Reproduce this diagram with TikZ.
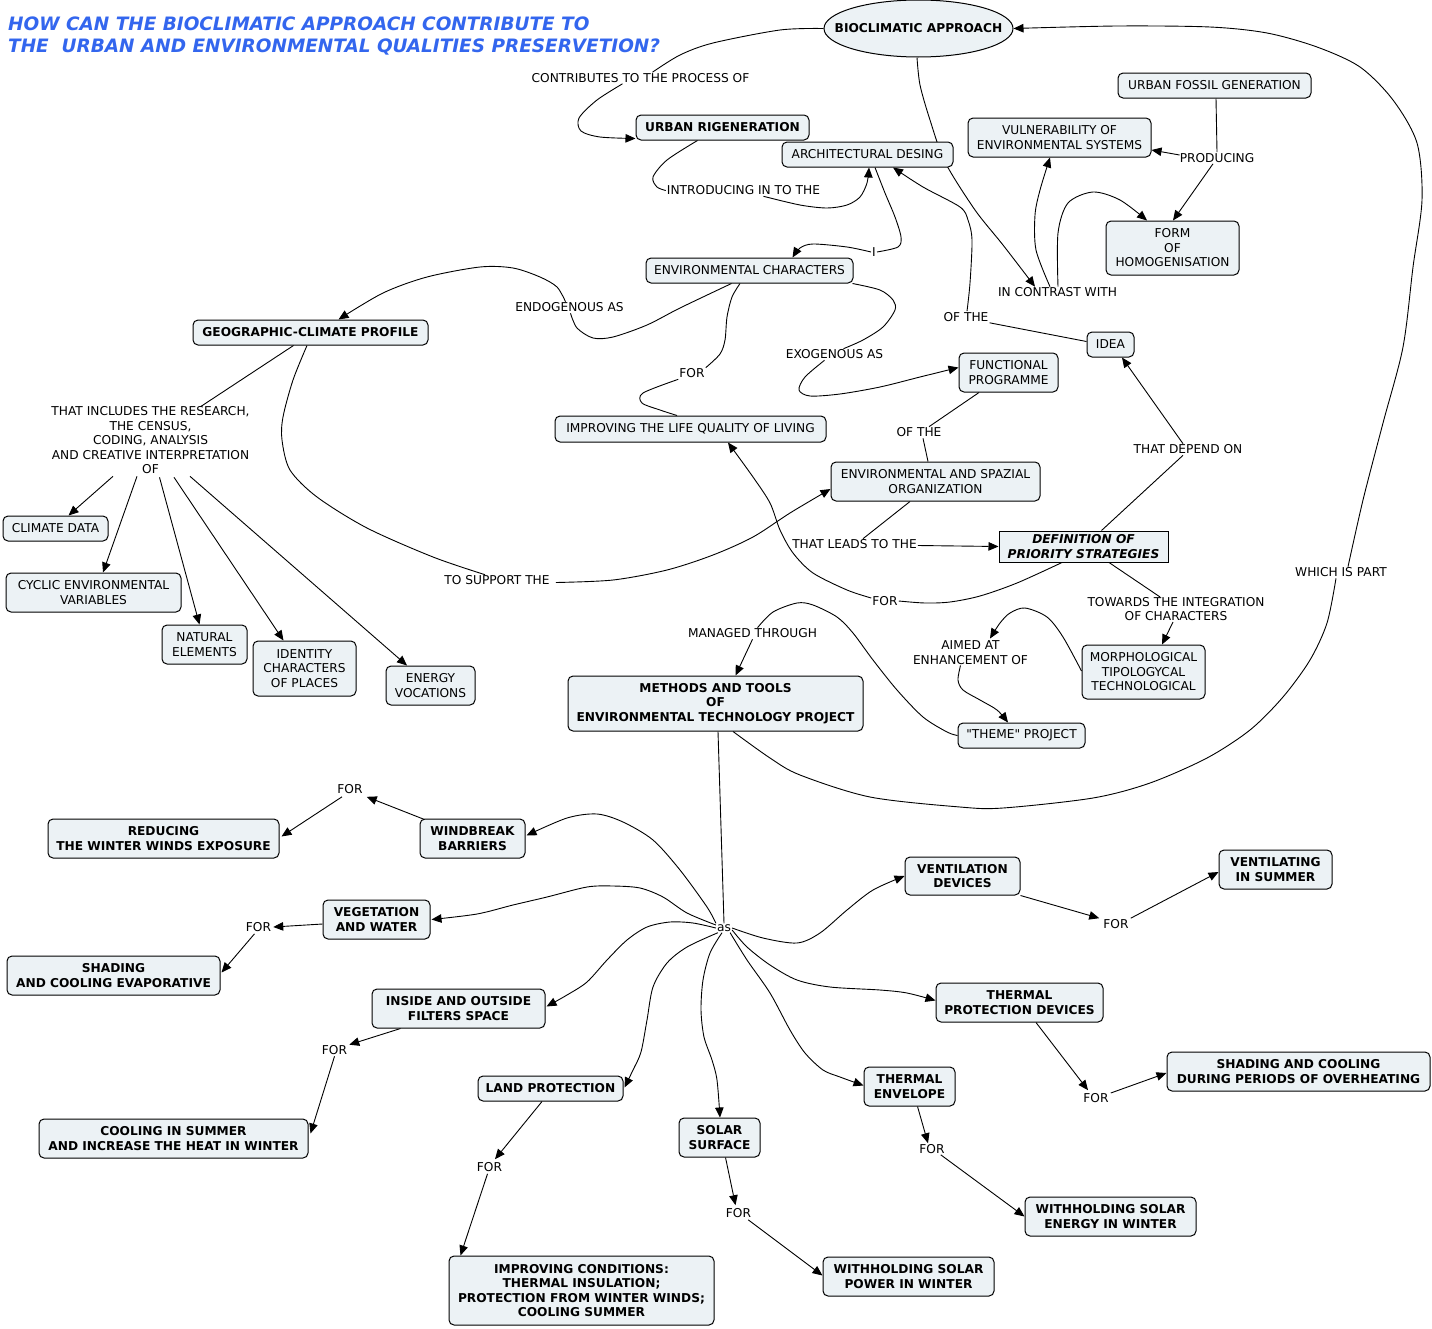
\documentclass[tikz,border=0pt]{standalone}
\usepackage{fontspec}
\setmainfont{DejaVu Sans}
\newfontfamily\rawdj{DejaVu Sans}
\usetikzlibrary{arrows.meta,calc,shapes.geometric}
\definecolor{boxfill}{RGB}{236,242,245}
\definecolor{titleblue}{RGB}{51,102,238}
\newcommand\cmfs{\fontsize{12.2}{14.5}\selectfont}
\pgfdeclarelayer{bg}
\pgfsetlayers{bg,main}
\tikzset{
  sz/.style 2 args={minimum width=#1, minimum height=#2},
  cbox/.style={draw, line width=1pt, rounded corners=5pt, fill=boxfill, align=center, inner sep=0pt, font=\cmfs},
  bbox/.style={cbox, font=\cmfs\bfseries},
  lab/.style={align=center, inner sep=1pt, font=\cmfs},
  conn/.style={line width=0.9pt},
  arr/.style={conn, -{Triangle[length=10pt,width=8.5pt]}},
  ttl/.style={anchor=base west, inner sep=0pt, font=\fontsize{18.45}{22}\selectfont\bfseries\itshape, text=titleblue},
}
\begin{document}
\begin{tikzpicture}[x=1pt,y=-1pt]
\useasboundingbox (0,0) rectangle (1432,1328);
% title
\node[ttl] (title1) at (8,30.5) {HOW CAN THE BIOCLIMATIC APPROACH CONTRIBUTE TO};
\node[ttl] (title2) at (8,52.5) {THE\ \ URBAN AND ENVIRONMENTAL QUALITIES PRESERVETION?};
% concepts
\node[draw, ellipse, line width=1pt, fill=boxfill, inner sep=0pt, sz={189pt}{57pt}, font=\cmfs\bfseries] (bio) at (918.5,28.5) {\makebox[0pt]{BIOCLIMATIC APPROACH}};
\node[bbox, sz={173pt}{25pt}] (ur) at (722.5,127.5) {URBAN RIGENERATION};
\node[cbox, sz={171pt}{25pt}] (arch) at (867.5,154.5) {ARCHITECTURAL DESING};
\node[cbox, sz={193pt}{25pt}] (ufg) at (1214.5,85.5) {URBAN FOSSIL GENERATION};
\node[cbox, sz={183pt}{39pt}] (vuln) at (1059.5,137.5) {VULNERABILITY OF\\ENVIRONMENTAL SYSTEMS};
\node[cbox, sz={133pt}{54pt}] (form) at (1172.5,248) {FORM\\OF\\HOMOGENISATION};
\node[cbox, sz={207pt}{25pt}] (envc) at (749.5,270.5) {ENVIRONMENTAL CHARACTERS};
\node[bbox, sz={235pt}{25pt}] (geog) at (310.5,332.5) {GEOGRAPHIC-CLIMATE PROFILE};
\node[cbox, sz={47pt}{25pt}] (idea) at (1110.5,344.5) {IDEA};
\node[cbox, sz={99pt}{39pt}] (fp) at (1008.5,372.5) {FUNCTIONAL\\PROGRAMME};
\node[cbox, sz={271pt}{26pt}] (ilq) at (690.5,429) {IMPROVING THE LIFE QUALITY OF LIVING};
\node[cbox, sz={209pt}{39pt}] (eso) at (935.5,481.5) {ENVIRONMENTAL AND SPAZIAL\\ORGANIZATION};
\node[draw, line width=1pt, fill=boxfill, align=center, inner sep=0pt, sz={169pt}{31pt}, font=\cmfs\bfseries\itshape] (def) at (1083.5,546.5) {DEFINITION OF\\PRIORITY STRATEGIES};
\node[cbox, sz={105pt}{25pt}] (cd) at (55.5,528.5) {CLIMATE DATA};
\node[cbox, sz={175pt}{39pt}] (cev) at (93.5,592.5) {CYCLIC ENVIRONMENTAL\\VARIABLES};
\node[cbox, sz={85pt}{39pt}] (ne) at (204.5,644.5) {NATURAL\\ELEMENTS};
\node[cbox, sz={103pt}{55pt}] (icp) at (304.5,668.5) {IDENTITY\\CHARACTERS\\OF PLACES};
\node[cbox, sz={89pt}{39pt}] (ev) at (430.5,685.5) {ENERGY\\VOCATIONS};
\node[cbox, sz={123pt}{54pt}] (morph) at (1143.5,672) {MORPHOLOGICAL\\TIPOLOGYCAL\\TECHNOLOGICAL};
\node[cbox, sz={127pt}{25pt}, font=\rawdj\cmfs] (theme) at (1021.5,735.5) {"THEME" PROJECT};
\node[bbox, sz={295pt}{55pt}] (meth) at (715.5,703.5) {METHODS AND TOOLS\\OF\\ENVIRONMENTAL TECHNOLOGY PROJECT};
\node[bbox, sz={231pt}{39pt}] (red) at (163.5,838.5) {REDUCING\\THE WINTER WINDS EXPOSURE};
\node[bbox, sz={105pt}{39pt}] (wb) at (472.5,838.5) {WINDBREAK\\BARRIERS};
\node[bbox, sz={115pt}{38pt}] (vd) at (962.5,876) {VENTILATION\\DEVICES};
\node[bbox, sz={113pt}{39pt}] (vs) at (1275.5,869.5) {VENTILATING\\IN SUMMER};
\node[bbox, sz={107pt}{39pt}] (vw) at (376.5,919.5) {VEGETATION\\AND WATER};
\node[bbox, sz={213pt}{39pt}] (sce) at (113.5,975.5) {SHADING\\AND COOLING EVAPORATIVE};
\node[bbox, sz={173pt}{39pt}] (ifs) at (458.5,1008.5) {INSIDE AND OUTSIDE\\FILTERS SPACE};
\node[bbox, sz={167pt}{39pt}] (tpd) at (1019.5,1002.5) {THERMAL\\PROTECTION DEVICES};
\node[bbox, sz={263pt}{39pt}] (scp) at (1298.5,1071.5) {SHADING AND COOLING\\DURING PERIODS OF OVERHEATING};
\node[bbox, sz={91pt}{39pt}] (te) at (909.5,1086.5) {THERMAL\\ENVELOPE};
\node[bbox, sz={145pt}{25pt}] (lp) at (550.5,1088.5) {LAND PROTECTION};
\node[bbox, sz={81pt}{39pt}] (ss) at (719.5,1137.5) {SOLAR\\SURFACE};
\node[bbox, sz={269pt}{39pt}] (cis) at (173.5,1138.5) {COOLING IN SUMMER\\AND INCREASE THE HEAT IN WINTER};
\node[bbox, sz={171pt}{39pt}] (wse) at (1110.5,1216.5) {WITHHOLDING SOLAR\\ENERGY IN WINTER};
\node[bbox, sz={265pt}{69pt}] (ic) at (581.5,1290.5) {IMPROVING CONDITIONS:\\THERMAL INSULATION;\\PROTECTION FROM WINTER WINDS;\\COOLING SUMMER};
\node[bbox, sz={171pt}{39pt}] (wsp) at (908.5,1276.5) {WITHHOLDING SOLAR\\POWER IN WINTER};
% linking phrases
\node[lab] (contrib) at (640.5,78) {CONTRIBUTES TO THE PROCESS OF};
\node[lab] (intro) at (743.5,190.5) {INTRODUCING IN TO THE};
\node[lab] (iLab) at (874,252) {I};
\node[lab] (producing) at (1217,158) {PRODUCING};
\node[lab] (contrast) at (1057.5,292.5) {IN CONTRAST WITH};
\node[lab] (ofthe1) at (966,317) {OF THE};
\node[lab] (endo) at (569.5,307.5) {ENDOGENOUS AS};
\node[lab] (exo) at (834.5,354.5) {EXOGENOUS AS};
\node[lab] (for1) at (692,373.5) {FOR};
\node[lab] (includes) at (150.5,440.5) {THAT INCLUDES THE RESEARCH,\\THE CENSUS,\\CODING, ANALYSIS\\AND CREATIVE INTERPRETATION\\OF};
\node[lab] (ofthe2) at (919,432.5) {OF THE};
\node[lab] (depend) at (1188,449.5) {THAT DEPEND ON};
\node[lab] (leads) at (854.5,544.5) {THAT LEADS TO THE};
\node[lab] (support) at (497,580.5) {TO SUPPORT THE};
\node[lab] (for2) at (885,601) {FOR};
\node[lab] (towards) at (1176,609) {TOWARDS THE INTEGRATION\\OF CHARACTERS};
\node[lab] (whichpart) at (1341,572.5) {WHICH IS PART};
\node[lab] (managed) at (752.5,633.5) {MANAGED THROUGH};
\node[lab] (aimed) at (970.5,652.5) {AIMED AT\\ENHANCEMENT OF};
\node[lab] (as) at (724,928) {as};
\node[lab] (forW) at (350,789) {FOR};
\node[lab] (forV) at (258.5,927) {FOR};
\node[lab] (forVD) at (1116,924) {FOR};
\node[lab] (forF) at (334.5,1050.5) {FOR};
\node[lab] (forTP) at (1096,1098) {FOR};
\node[lab] (forTE) at (932,1149) {FOR};
\node[lab] (forLP) at (489.5,1167) {FOR};
\node[lab] (forSS) at (738.5,1213) {FOR};
% connectors
\begin{pgfonlayer}{bg}
\fill[white] (0,0) rectangle (1432,1328);
\draw[conn] plot[smooth] coordinates {(bio.west) (780,30) (713,43) (680,55) ($(contrib.north)+(12,0)$)};
\draw[arr] plot[smooth] coordinates {($(contrib.south)+(-18,0)$) (597,100) (579,118) (581,131) (600,137) ($(ur.south west)+(0,-2)$)};
\draw[conn] plot[smooth] coordinates {($(ur.south)+(-25,0)$) (667,160) (653,177) (657,187) (intro.west)};
\draw[arr] plot[smooth] coordinates {($(intro.south)+(20,0)$) (800,205) (827,208) (847,205) (860,197) (867,183) ($(arch.south)+(1.5,0)$)};
\draw[conn] plot[smooth] coordinates {($(arch.south)+(7.5,0)$) (885,193) (895,217) (901,237) (898,247) (iLab.east)};
\draw[arr] plot[smooth] coordinates {(iLab.west) (847,247) (813,244) (800,248) ($(envc.north)+(43,0)$)};
\draw[arr] plot[smooth] coordinates {($(bio.south)+(-1.5,0)$) (920,85) (930,120) (945,162) (975,210) (1003,245) ($(contrast.north)+(-22.5,0)$)};
\draw[arr] plot[smooth] coordinates {($(contrast.north)+(-7.5,0)$) (1036,250) (1035,215) (1040,190) ($(vuln.south)+(-9.5,0)$)};
\draw[arr] plot[smooth] coordinates {($(contrast.north)+(0.5,0)$) (1058,233) (1068,203) (1093,192) (1120,200) ($(form.north)+(-25.5,0)$)};
\draw[conn] ($(ufg.south)+(1.5,0)$) -- (producing.north);
\draw[arr] ($(producing.west)+(1,-3)$) -- ($(vuln.east)+(0,12.5)$);
\draw[arr] ($(producing.south)+(-4,0)$) -- ($(form.north)+(0.5,0)$);
\draw[conn] ($(idea.west)+(0,-3)$) -- (ofthe1.south east);
\draw[arr] plot[smooth] coordinates {($(ofthe1.north)+(1,0)$) (970,283) (972,240) (968,220) (960,207) (923,187) ($(arch.south)+(25.5,0)$)};
\draw[conn] plot[smooth] coordinates {($(envc.south)+(-18,0)$) (680,308) (647,325) (613,337) (593,338) (577,328) ($(endo.south)+(1,0)$)};
\draw[arr] plot[smooth] coordinates {($(endo.north)+(-4,0)$) (557,287) (540,277) (513,268) (480,267) (427,277) (383,293) ($(geog.north)+(28,0)$)};
\draw[conn] plot[smooth] coordinates {($(envc.south east)+(-1,0)$) (880,290) (893,300) (895,310) (883,327) (863,340) ($(exo.north)+(9,0)$)};
\draw[arr] plot[smooth] coordinates {($(exo.south)+(-10,0)$) (805,377) (799,390) (810,396) (840,394) (880,387) (920,377) ($(fp.west)+(0,-5)$)};
\draw[conn] plot[smooth] coordinates {($(envc.south)+(-9.5,0)$) (732,297) (727,317) (725,340) (720,354) (for1.north east)};
\draw[conn] plot[smooth] coordinates {(for1.south west) (643,393) (642,403) (660,410) ($(ilq.north)+(-13.5,0)$)};
\draw[conn] ($(geog.south)+(-17,0)$) -- ($(includes.north)+(50,1)$);
\draw[arr] ($(includes.south)+(-37.5,1)$) -- ($(cd.north)+(13,0)$);
\draw[arr] ($(includes.south)+(-13.5,1)$) -- ($(cev.north)+(9.5,0)$);
\draw[arr] ($(includes.south)+(9,2)$) -- ($(ne.north)+(-5,0)$);
\draw[arr] ($(includes.south)+(23.5,2)$) -- ($(icp.north)+(-21,0)$);
\draw[arr] ($(includes.south)+(39.5,1)$) -- ($(ev.north)+(-23.5,0)$);
\draw[conn] plot[smooth] coordinates {($(geog.south)+(-3.5,0)$) (293,380) (283,417) (282,440) (290,470) (317,497) (367,528) (433,557) ($(support.north)+(-12,0)$)};
\draw[arr] plot[smooth] coordinates {($(support.east)+(5,2)$) (613,580) (667,570) (713,555) (753,537) (790,513) ($(eso.west)+(0,7.5)$)};
\draw[conn] ($(fp.south)+(-29.5,0)$) -- ($(ofthe2.north)+(10,0)$);
\draw[conn] ($(ofthe2.south)+(4,0)$) -- ($(eso.north)+(-7.5,0)$);
\draw[conn] ($(eso.south)+(-25.5,0)$) -- ($(leads.north)+(8.5,0)$);
\draw[arr] ($(leads.east)+(0,1)$) -- (def.west);
\draw[conn] ($(def.north)+(18,0)$) -- ($(depend.south)+(-5,0)$);
\draw[arr] ($(depend.north)+(-5,0)$) -- ($(idea.south)+(11.5,0)$);
\draw[conn] plot[smooth] coordinates {($(def.south)+(-21.5,0)$) (1017,583) (980,596) (950,602) (925,603) (for2.east)};
\draw[arr] plot[smooth] coordinates {($(for2.west)+(0,-3)$) (847,590) (813,573) (793,553) (780,530) (770,503) (753,477) ($(ilq.south)+(37.5,0)$)};
\draw[conn] ($(def.south)+(25.5,0)$) -- ($(towards.north)+(-16,1)$);
\draw[arr] ($(towards.south)+(-3,0)$) -- ($(morph.north)+(18.5,0)$);
\draw[arr] plot[smooth] coordinates {($(morph.west)+(0,-1)$) (1063,637) (1047,617) (1025,608) (1010,613) (1000,623) ($(aimed.north)+(19.5,-1)$)};
\draw[arr] plot[smooth] coordinates {($(aimed.south)+(-10,0)$) (958,680) (963,690) (980,700) (997,710) ($(theme.north)+(-13.5,0)$)};
\draw[conn] plot[smooth] coordinates {(theme.west) (947,732) (923,717) (897,690) (873,660) (853,633) (837,617) (813,605) (797,603) (773,612) ($(managed.north)+(5,0)$)};
\draw[arr] (managed.south) -- ($(meth.north)+(20,0)$);
\draw[conn] plot[smooth] coordinates {($(meth.south)+(17.5,0)$) (770,758) (800,775) (870,797) (960,807) (1003,808) (1093,798) (1150,783) (1207,758) (1250,730) (1283,697) (1310,660) (1327,623) ($(whichpart.south)+(-5,0)$)};
\draw[arr] plot[smooth] coordinates {($(whichpart.north)+(7,0)$) (1363,500) (1383,423) (1403,347) (1413,267) (1422,200) (1417,143) (1393,100) (1360,67) (1317,47) (1267,33) (1210,27) (1117,26) (bio.east)};
\draw[conn] ($(meth.south)+(2.5,0)$) -- (as.north);
% from "as"
\draw[arr] plot[smooth] coordinates {(as.north west) (707,907) (680,870) (653,840) (623,822) (597,814) (567,818) ($(wb.east)+(1,-3)$)};
\draw[arr] plot[smooth] coordinates {($(as.west)+(0,-3)$) (687,913) (663,897) (640,888) (613,886) (587,887) (547,897) (513,905) (477,914) ($(vw.east)+(1,0)$)};
\draw[arr] plot[smooth] coordinates {(as.west) (693,923) (670,922) (647,927) (627,940) (607,960) (587,982) (567,995) ($(ifs.east)+(1,-2)$)};
\draw[arr] plot[smooth] coordinates {($(as.south west)+(2,0)$) (687,947) (667,963) (653,987) (647,1020) (641,1052) (633,1070) ($(lp.east)+(1,-1)$)};
\draw[arr] plot[smooth] coordinates {($(as.south)+(-2,0)$) (710,953) (703,980) (701,1010) (704,1037) (712,1060) (717,1080) ($(ss.north)+(0.5,0)$)};
\draw[arr] plot[smooth] coordinates {($(as.south east)+(-2,0)$) (747,960) (770,993) (790,1030) (805,1053) (823,1070) (840,1077) ($(te.west)+(0,-1)$)};
\draw[arr] plot[smooth] coordinates {($(as.east)+(0,2)$) (747,947) (770,965) (797,980) (830,987) (880,990) (907,993) ($(tpd.west)+(0,-2)$)};
\draw[arr] plot[smooth] coordinates {(as.east) (763,938) (797,943) (820,933) (847,910) (873,890) (vd.west)};
% FOR links
\draw[arr] ($(wb.north west)+(5,1)$) -- ($(forW.south east)+(3,2)$);
\draw[arr] ($(forW.south)+(-8,2)$) -- ($(red.east)+(2,-2)$);
\draw[arr] ($(vw.west)+(0,4.5)$) -- ($(forV.east)+(1,0)$);
\draw[arr] ($(forV.south)+(-4,1)$) -- ($(sce.east)+(1,-3)$);
\draw[arr] (vd.south east) -- ($(forVD.north west)+(-3,0)$);
\draw[arr] ($(forVD.north east)+(1,0)$) -- ($(vs.west)+(0,2.5)$);
\draw[arr] ($(ifs.south)+(-58,0)$) -- ($(forF.north east)+(1,0)$);
\draw[arr] (forF.south) -- ($(cis.east)+(2,-5)$);
\draw[arr] ($(tpd.south)+(16.5,0)$) -- ($(forTP.north)+(-8,-2)$);
\draw[arr] ($(forTP.east)+(1,-5)$) -- ($(scp.west)+(0,1.5)$);
\draw[arr] ($(te.south)+(8,0)$) -- ($(forTE.north)+(-4,0)$);
\draw[arr] ($(forTE.south east)+(-5,0)$) -- (wse.west);
\draw[arr] ($(lp.south)+(-8.5,0)$) -- ($(forLP.north)+(5.5,-2)$);
\draw[arr] ($(forLP.south)+(-2,1)$) -- ($(ic.north west)+(12,0)$);
\draw[arr] ($(ss.south)+(6,0)$) -- ($(forSS.north)+(-3,-2)$);
\draw[arr] ($(forSS.south east)+(-4,1)$) -- ($(wsp.west)+(0,-1)$);
\end{pgfonlayer}
\end{tikzpicture}
\end{document}
